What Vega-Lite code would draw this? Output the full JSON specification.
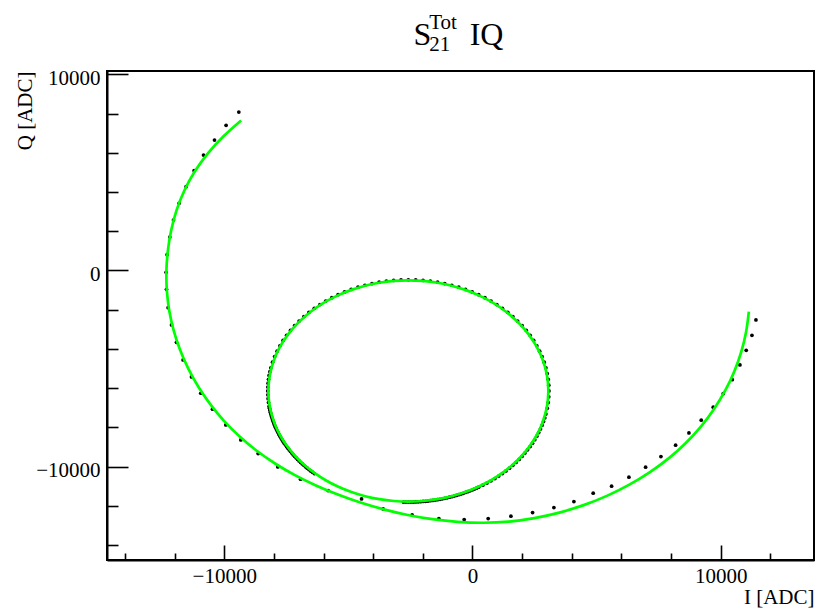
{
  "$schema": "https://vega.github.io/schema/vega-lite/v6.json",
  "width": 707,
  "height": 489,
  "autosize": "none",
  "padding": {"left": 107, "top": 71, "right": 1, "bottom": 49},
  "background": "white",
  "config": {"view": {"stroke": "black", "strokeWidth": 2}, "font": "Liberation Serif"},
  "title": {
    "text": "S\u00a0\u00a0\u00a0\u00a0\u2009IQ",
    "subtitle": ["\u200b\u00a0\u00a0\u00a0Tot", "\u200b\u00a0\u00a0\u00a021"],
    "anchor": "middle",
    "align": "left",
    "dx": -47,
    "offset": 4,
    "font": "Liberation Serif",
    "fontSize": 32,
    "fontWeight": "normal",
    "color": "black",
    "subtitleFont": "Liberation Serif",
    "subtitleFontSize": 21,
    "subtitleColor": "black",
    "subtitleLineHeight": 22,
    "subtitlePadding": -40
  },
  "datasets": {
    "pts": [
      {"I":-9414,"Q":8076},{"I":-9926,"Q":7398},{"I":-10393,"Q":6649},{"I":-10837,"Q":5885},{"I":-11216,"Q":5085},
      {"I":-11538,"Q":4270},{"I":-11820,"Q":3424},{"I":-12046,"Q":2573},{"I":-12195,"Q":1707},{"I":-12304,"Q":805},
      {"I":-12344,"Q":-92},{"I":-12328,"Q":-958},{"I":-12263,"Q":-1895},{"I":-12126,"Q":-2777},{"I":-11925,"Q":-3658},
      {"I":-11659,"Q":-4560},{"I":-11320,"Q":-5426},{"I":-10946,"Q":-6257},{"I":-10474,"Q":-7072},{"I":-9938,"Q":-7872},
      {"I":-9334,"Q":-8636},{"I":-8636,"Q":-9334},{"I":-7842,"Q":-10012},{"I":-6928,"Q":-10638},{"I":-5815,"Q":-11219},
      {"I":-4469,"Q":-11642},{"I":-3599,"Q":-12152},{"I":-2430,"Q":-12457},{"I":-1354,"Q":-12646},{"I":-334,"Q":-12697},
      {"I":633,"Q":-12646},{"I":1548,"Q":-12524},{"I":2422,"Q":-12340},{"I":3280,"Q":-12085},{"I":4086,"Q":-11780},
      {"I":4864,"Q":-11352},{"I":5606,"Q":-10995},{"I":6303,"Q":-10537},{"I":6976,"Q":-10027},{"I":7593,"Q":-9487},
      {"I":8185,"Q":-8906},{"I":8721,"Q":-8279},{"I":9217,"Q":-7632},{"I":9700,"Q":-6970},{"I":10103,"Q":-6277},
      {"I":10466,"Q":-5564},{"I":10776,"Q":-4815},{"I":11030,"Q":-4066},{"I":11260,"Q":-3302},{"I":11421,"Q":-2522},
      {"I":-2781,"Q":-11802},{"I":-2682,"Q":-11804},{"I":-2583,"Q":-11805},{"I":-2484,"Q":-11804},{"I":-2385,"Q":-11802},
      {"I":-2287,"Q":-11797},{"I":-2188,"Q":-11791},{"I":-2089,"Q":-11783},{"I":-1991,"Q":-11774},{"I":-1892,"Q":-11763},
      {"I":-1794,"Q":-11750},{"I":-1697,"Q":-11735},{"I":-1600,"Q":-11719},{"I":-1502,"Q":-11701},{"I":-1405,"Q":-11681},
      {"I":-1308,"Q":-11660},{"I":-1213,"Q":-11637},{"I":-1117,"Q":-11612},{"I":-1022,"Q":-11586},{"I":-927,"Q":-11557},
      {"I":-833,"Q":-11528},{"I":-738,"Q":-11496},{"I":-646,"Q":-11463},{"I":-553,"Q":-11429},{"I":-461,"Q":-11393},
      {"I":-370,"Q":-11355},{"I":-279,"Q":-11315},{"I":-189,"Q":-11274},{"I":-99,"Q":-11232},{"I":-11,"Q":-11188},
      {"I":77,"Q":-11142},{"I":163,"Q":-11095},{"I":250,"Q":-11046},
      {"I":419,"Q":-10944},{"I":585,"Q":-10836},{"I":747,"Q":-10723},{"I":905,"Q":-10604},{"I":1058,"Q":-10479},
      {"I":1207,"Q":-10350},{"I":1352,"Q":-10215},{"I":1492,"Q":-10075},{"I":1627,"Q":-9930},{"I":1756,"Q":-9781},
      {"I":1881,"Q":-9628},{"I":2000,"Q":-9470},{"I":2113,"Q":-9308},{"I":2221,"Q":-9142},{"I":2323,"Q":-8973},
      {"I":2419,"Q":-8800},{"I":2509,"Q":-8624},{"I":2592,"Q":-8444},{"I":2670,"Q":-8262},{"I":2740,"Q":-8077},
      {"I":2805,"Q":-7890},{"I":2863,"Q":-7701},{"I":2914,"Q":-7510},{"I":2958,"Q":-7318},
      {"I":3012,"Q":-7026},{"I":3051,"Q":-6732},{"I":3074,"Q":-6436},{"I":3082,"Q":-6140},{"I":3074,"Q":-5844},
      {"I":3051,"Q":-5548},{"I":3012,"Q":-5254},{"I":2958,"Q":-4962},{"I":2889,"Q":-4674},{"I":2805,"Q":-4390},
      {"I":2706,"Q":-4110},{"I":2592,"Q":-3836},{"I":2465,"Q":-3568},{"I":2323,"Q":-3307},{"I":2168,"Q":-3055},
      {"I":2000,"Q":-2810},{"I":1819,"Q":-2575},{"I":1627,"Q":-2350},{"I":1423,"Q":-2134},{"I":1207,"Q":-1930},
      {"I":982,"Q":-1738},{"I":747,"Q":-1557},{"I":502,"Q":-1389},{"I":250,"Q":-1234},{"I":-11,"Q":-1092},
      {"I":-279,"Q":-965},{"I":-553,"Q":-851},{"I":-833,"Q":-752},{"I":-1117,"Q":-668},{"I":-1405,"Q":-599},
      {"I":-1697,"Q":-545},{"I":-1991,"Q":-506},{"I":-2287,"Q":-483},{"I":-2583,"Q":-475},{"I":-2879,"Q":-483},
      {"I":-3175,"Q":-506},{"I":-3469,"Q":-545},{"I":-3761,"Q":-599},{"I":-4049,"Q":-668},{"I":-4333,"Q":-752},
      {"I":-4613,"Q":-851},{"I":-4887,"Q":-965},{"I":-5155,"Q":-1092},{"I":-5416,"Q":-1234},{"I":-5668,"Q":-1389},
      {"I":-5913,"Q":-1557},{"I":-6148,"Q":-1738},{"I":-6373,"Q":-1930},{"I":-6589,"Q":-2134},{"I":-6793,"Q":-2350},
      {"I":-6985,"Q":-2575},{"I":-7166,"Q":-2810},{"I":-7334,"Q":-3055},{"I":-7489,"Q":-3307},{"I":-7631,"Q":-3568},
      {"I":-7758,"Q":-3836},{"I":-7872,"Q":-4110},{"I":-7971,"Q":-4390},{"I":-8055,"Q":-4674},{"I":-8124,"Q":-4962},
      {"I":-8162,"Q":-5157},{"I":-8193,"Q":-5351},{"I":-8217,"Q":-5548},{"I":-8234,"Q":-5745},{"I":-8245,"Q":-5942},
      {"I":-8248,"Q":-6140},{"I":-8245,"Q":-6338},{"I":-8234,"Q":-6535},{"I":-8217,"Q":-6732},{"I":-8193,"Q":-6929},
      {"I":-8178,"Q":-7026},{"I":-8162,"Q":-7123},{"I":-8144,"Q":-7221},{"I":-8124,"Q":-7318},{"I":-8103,"Q":-7415},
      {"I":-8080,"Q":-7510},{"I":-8055,"Q":-7606},{"I":-8029,"Q":-7701},{"I":-8000,"Q":-7796},{"I":-7971,"Q":-7890},
      {"I":-7939,"Q":-7985},{"I":-7906,"Q":-8077},{"I":-7872,"Q":-8170},{"I":-7836,"Q":-8262},{"I":-7798,"Q":-8353},
      {"I":-7758,"Q":-8444},{"I":-7717,"Q":-8534},{"I":-7675,"Q":-8624},{"I":-7631,"Q":-8712},{"I":-7585,"Q":-8800},
      {"I":-7538,"Q":-8886},{"I":-7489,"Q":-8973},{"I":-7439,"Q":-9057},{"I":-7387,"Q":-9142},{"I":-7334,"Q":-9225},
      {"I":-7279,"Q":-9308},{"I":-7224,"Q":-9389},{"I":-7166,"Q":-9470},{"I":-7107,"Q":-9549},{"I":-7047,"Q":-9628},
      {"I":-6985,"Q":-9705},{"I":-6922,"Q":-9781},{"I":-6858,"Q":-9857},{"I":-6793,"Q":-9930},{"I":-6726,"Q":-10004},
      {"I":-6658,"Q":-10075},{"I":-6589,"Q":-10146},{"I":-6518,"Q":-10215},{"I":-6447,"Q":-10283},{"I":-6373,"Q":-10350}
    ],
    "fit": [
      {"part":"outer","o":1,"I":-9322,"Q":7650},{"part":"outer","o":2,"I":-10031,"Q":6842},{"part":"outer","o":3,"I":-10661,"Q":5973},
      {"part":"outer","o":4,"I":-11191,"Q":5043},{"part":"outer","o":5,"I":-11612,"Q":4063},{"part":"outer","o":6,"I":-11928,"Q":3051},
      {"part":"outer","o":7,"I":-12143,"Q":2021},{"part":"outer","o":8,"I":-12275,"Q":986},{"part":"outer","o":9,"I":-12332,"Q":-45},
      {"part":"outer","o":10,"I":-12310,"Q":-1072},{"part":"outer","o":11,"I":-12211,"Q":-2088},{"part":"outer","o":12,"I":-12031,"Q":-3087},
      {"part":"outer","o":13,"I":-11775,"Q":-4066},{"part":"outer","o":14,"I":-11445,"Q":-5019},{"part":"outer","o":15,"I":-11039,"Q":-5940},
      {"part":"outer","o":16,"I":-10560,"Q":-6823},{"part":"outer","o":17,"I":-10012,"Q":-7662},{"part":"outer","o":18,"I":-9391,"Q":-8449},
      {"part":"outer","o":19,"I":-8705,"Q":-9177},{"part":"outer","o":20,"I":-7956,"Q":-9837},{"part":"outer","o":21,"I":-7155,"Q":-10433},
      {"part":"outer","o":22,"I":-6308,"Q":-10957},{"part":"outer","o":23,"I":-5425,"Q":-11420},{"part":"outer","o":24,"I":-4515,"Q":-11829},
      {"part":"outer","o":25,"I":-3575,"Q":-12175},{"part":"outer","o":26,"I":-2608,"Q":-12462},{"part":"outer","o":27,"I":-1616,"Q":-12676},
      {"part":"outer","o":28,"I":-600,"Q":-12812},{"part":"outer","o":29,"I":432,"Q":-12857},{"part":"outer","o":30,"I":1467,"Q":-12796},
      {"part":"outer","o":31,"I":2494,"Q":-12619},{"part":"outer","o":32,"I":3501,"Q":-12339},{"part":"outer","o":33,"I":4477,"Q":-11959},
      {"part":"outer","o":34,"I":5414,"Q":-11487},{"part":"outer","o":35,"I":6302,"Q":-10929},{"part":"outer","o":36,"I":7135,"Q":-10289},
      {"part":"outer","o":37,"I":7903,"Q":-9575},{"part":"outer","o":38,"I":8596,"Q":-8789},{"part":"outer","o":39,"I":9210,"Q":-7941},
      {"part":"outer","o":40,"I":9740,"Q":-7042},{"part":"outer","o":41,"I":10190,"Q":-6103},{"part":"outer","o":42,"I":10552,"Q":-5131},
      {"part":"outer","o":43,"I":10832,"Q":-4135},{"part":"outer","o":44,"I":11025,"Q":-3121},{"part":"outer","o":45,"I":11135,"Q":-2099},
      {"part":"loop","o":0,"I":3057,"Q":-6140},{"part":"loop","o":1,"I":3026,"Q":-5551},{"part":"loop","o":2,"I":2933,"Q":-4967},
      {"part":"loop","o":3,"I":2781,"Q":-4397},{"part":"loop","o":4,"I":2569,"Q":-3846},{"part":"loop","o":5,"I":2301,"Q":-3320},
      {"part":"loop","o":6,"I":1980,"Q":-2825},{"part":"loop","o":7,"I":1608,"Q":-2366},{"part":"loop","o":8,"I":1191,"Q":-1949},
      {"part":"loop","o":9,"I":732,"Q":-1577},{"part":"loop","o":10,"I":237,"Q":-1256},{"part":"loop","o":11,"I":-289,"Q":-988},
      {"part":"loop","o":12,"I":-840,"Q":-776},{"part":"loop","o":13,"I":-1410,"Q":-624},{"part":"loop","o":14,"I":-1994,"Q":-531},
      {"part":"loop","o":15,"I":-2583,"Q":-500},{"part":"loop","o":16,"I":-3172,"Q":-531},{"part":"loop","o":17,"I":-3756,"Q":-624},
      {"part":"loop","o":18,"I":-4326,"Q":-776},{"part":"loop","o":19,"I":-4877,"Q":-988},{"part":"loop","o":20,"I":-5403,"Q":-1256},
      {"part":"loop","o":21,"I":-5898,"Q":-1577},{"part":"loop","o":22,"I":-6357,"Q":-1949},{"part":"loop","o":23,"I":-6774,"Q":-2366},
      {"part":"loop","o":24,"I":-7146,"Q":-2825},{"part":"loop","o":25,"I":-7467,"Q":-3320},{"part":"loop","o":26,"I":-7735,"Q":-3846},
      {"part":"loop","o":27,"I":-7947,"Q":-4397},{"part":"loop","o":28,"I":-8099,"Q":-4967},{"part":"loop","o":29,"I":-8192,"Q":-5551},
      {"part":"loop","o":30,"I":-8223,"Q":-6140},{"part":"loop","o":31,"I":-8192,"Q":-6729},{"part":"loop","o":32,"I":-8099,"Q":-7313},
      {"part":"loop","o":33,"I":-7947,"Q":-7883},{"part":"loop","o":34,"I":-7735,"Q":-8434},{"part":"loop","o":35,"I":-7467,"Q":-8960},
      {"part":"loop","o":36,"I":-7146,"Q":-9455},{"part":"loop","o":37,"I":-6774,"Q":-9914},{"part":"loop","o":38,"I":-6357,"Q":-10331},
      {"part":"loop","o":39,"I":-5898,"Q":-10703},{"part":"loop","o":40,"I":-5403,"Q":-11024},{"part":"loop","o":41,"I":-4877,"Q":-11292},
      {"part":"loop","o":42,"I":-4326,"Q":-11504},{"part":"loop","o":43,"I":-3756,"Q":-11656},{"part":"loop","o":44,"I":-3172,"Q":-11749},
      {"part":"loop","o":45,"I":-2583,"Q":-11780},{"part":"loop","o":46,"I":-1994,"Q":-11749},{"part":"loop","o":47,"I":-1410,"Q":-11656},
      {"part":"loop","o":48,"I":-840,"Q":-11504},{"part":"loop","o":49,"I":-289,"Q":-11292},{"part":"loop","o":50,"I":237,"Q":-11024},
      {"part":"loop","o":51,"I":732,"Q":-10703},{"part":"loop","o":52,"I":1191,"Q":-10331},{"part":"loop","o":53,"I":1608,"Q":-9914},
      {"part":"loop","o":54,"I":1980,"Q":-9455},{"part":"loop","o":55,"I":2301,"Q":-8960},{"part":"loop","o":56,"I":2569,"Q":-8434},
      {"part":"loop","o":57,"I":2781,"Q":-7883},{"part":"loop","o":58,"I":2933,"Q":-7313},{"part":"loop","o":59,"I":3026,"Q":-6729},
      {"part":"loop","o":60,"I":3057,"Q":-6140}
    ]
  },
  "layer": [
    {
      "data": {"name": "pts"},
      "mark": {"type": "circle", "size": 14, "color": "black", "opacity": 1},
      "encoding": {
        "x": {
          "field": "I", "type": "quantitative",
          "scale": {"domain": [-14725, 13760], "nice": false, "zero": false},
          "axis": {
            "values": [-14000,-13000,-12000,-11000,-10000,-9000,-8000,-7000,-6000,-5000,-4000,-3000,-2000,-1000,0,1000,2000,3000,4000,5000,6000,7000,8000,9000,10000,11000,12000,13000],
            "labelExpr": "datum.value % 5000 === 0 ? format(datum.value, 'd') : ''",
            "tickSize": {"condition": {"test": "datum.value % 5000 === 0", "value": -15}, "value": -7},
            "tickColor": "black", "tickWidth": 1.6,
            "domainColor": "black", "domainWidth": 2,
            "grid": false,
            "labelFont": "Liberation Serif", "labelFontSize": 21, "labelColor": "black",
            "labelBaseline": "alphabetic", "labelPadding": 37,
            "labelFlush": false, "labelOverlap": false, "labelBound": false,
            "title": "I [ADC]", "titleFont": "Liberation Serif", "titleFontSize": 21, "titleFontWeight": "normal",
            "titleColor": "black", "titleAnchor": "end", "titleAlign": "right", "titleBaseline": "alphabetic",
            "titleX": 707, "titleY": 43
          }
        },
        "y": {
          "field": "Q", "type": "quantitative",
          "scale": {"domain": [-14756, 10168], "nice": false, "zero": false},
          "axis": {
            "values": [-14000,-13000,-12000,-11000,-10000,-9000,-8000,-7000,-6000,-5000,-4000,-3000,-2000,-1000,0,1000,2000,3000,4000,5000,6000,7000,8000,9000,10000],
            "labelExpr": "datum.value % 5000 === 0 ? format(datum.value, 'd') : ''",
            "tickSize": {"condition": {"test": "datum.value % 5000 === 0", "value": -21}, "value": -11},
            "tickColor": "black", "tickWidth": 1.6,
            "domainColor": "black", "domainWidth": 2,
            "grid": false,
            "labelFont": "Liberation Serif", "labelFontSize": 21, "labelColor": "black",
            "labelBaseline": "alphabetic", "labelPadding": 28, "labelOffset": 10, "labelAlign": "right",
            "labelFlush": false, "labelOverlap": false, "labelBound": false,
            "title": "Q [ADC]", "titleFont": "Liberation Serif", "titleFontSize": 21, "titleFontWeight": "normal",
            "titleColor": "black", "titleAnchor": "end", "titleAlign": "right", "titleBaseline": "alphabetic",
            "titleAngle": 270, "titleX": -76, "titleY": 0
          }
        }
      }
    },
    {
      "data": {"name": "fit"},
      "mark": {"type": "line", "color": "#00ff00", "strokeWidth": 2.7, "interpolate": "catmull-rom"},
      "encoding": {
        "x": {"field": "I", "type": "quantitative"},
        "y": {"field": "Q", "type": "quantitative"},
        "detail": {"field": "part"},
        "order": {"field": "o", "type": "quantitative"}
      }
    }
  ]
}
